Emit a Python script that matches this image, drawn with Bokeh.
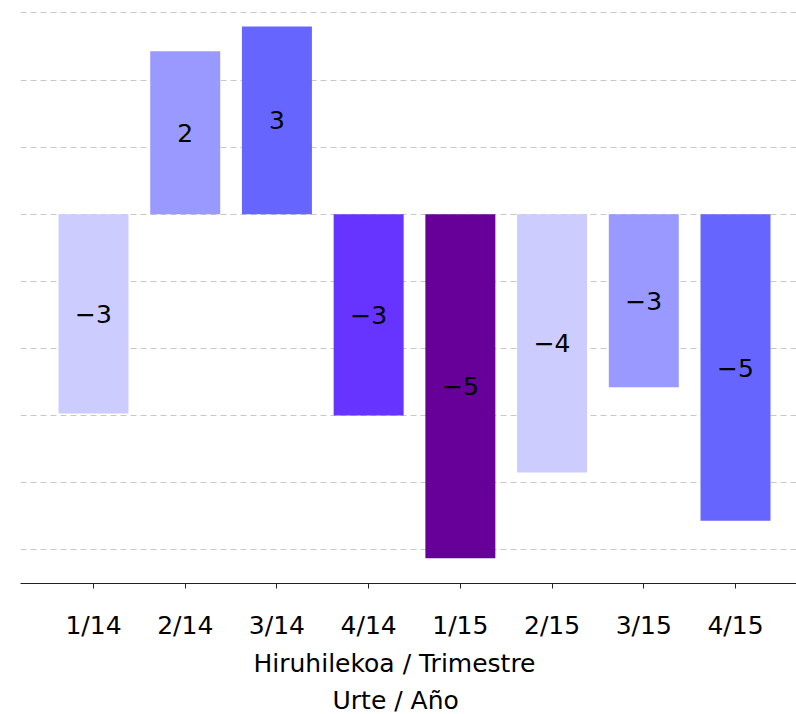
from bokeh.plotting import figure
from bokeh.models import ColumnDataSource, FixedTicker, Range1d, Title
from bokeh.embed import file_html
from bokeh.resources import INLINE

categories = ["1/14", "2/14", "3/14", "4/14", "1/15", "2/15", "3/15", "4/15"]
values = [-2.97, 2.43, 2.80, -3.00, -5.13, -3.85, -2.58, -4.57]
colors = ["#ccccff", "#9999ff", "#6666ff", "#6633ff", "#660099", "#ccccff", "#9999ff", "#6666ff"]
grid_ticks = [-5, -4, -3, -2, -1, 0, 1, 2, 3]
xlabel_1 = "Hiruhilekoa / Trimestre"
xlabel_2 = "Urte / Año"

FONT = "DejaVu Sans"

xs = list(range(len(categories)))
labels = [str(round(v)).replace("-", "\u2212") for v in values]
src = ColumnDataSource(dict(
    x=xs, top=[max(v, 0) for v in values], bottom=[min(v, 0) for v in values],
    mid=[v / 2 for v in values], color=colors, label=labels))

p = figure(frame_width=776, frame_height=575, output_backend="svg", toolbar_location=None,
           x_range=Range1d(-0.796, 7.665), y_range=Range1d(-5.505, 3.067),
           min_border_left=20, min_border_right=0, min_border_top=8, min_border_bottom=0)
p.outline_line_color = None
p.background_fill_color = "white"

p.yaxis.visible = False
p.xgrid.visible = False
p.ygrid.ticker = FixedTicker(ticks=grid_ticks)
p.ygrid.grid_line_color = "#c8c8c8"
p.ygrid.grid_line_dash = "6 4"
p.ygrid.grid_line_width = 1

p.vbar(x="x", top="top", bottom="bottom", width=0.763, fill_color="color", line_color=None, source=src)
p.text(x="x", y="mid", text="label", source=src, text_align="center", text_baseline="middle",
       text_font_size="25px", text_color="black", text_font={"value": FONT})

ax = p.xaxis[0]
ax.ticker = FixedTicker(ticks=xs)
ax.major_label_overrides = {i: c for i, c in enumerate(categories)}
ax.major_label_text_font = FONT
ax.major_label_text_font_size = "25px"
ax.major_label_text_color = "black"
ax.major_label_standoff = 22
ax.major_tick_in = 0
ax.major_tick_out = 5
ax.minor_tick_line_color = None
ax.axis_line_color = "#222222"
ax.major_tick_line_color = "#222222"

p.add_layout(Title(text=xlabel_1, align="left", text_font=FONT, text_font_size="25px",
                   text_font_style="normal", text_color="black", standoff=9, offset=233), "below")
p.add_layout(Title(text=xlabel_2, align="left", text_font=FONT, text_font_size="25px",
                   text_font_style="normal", text_color="black", standoff=3, offset=312), "below")

open("out.html", "w").write(file_html(p, INLINE))
